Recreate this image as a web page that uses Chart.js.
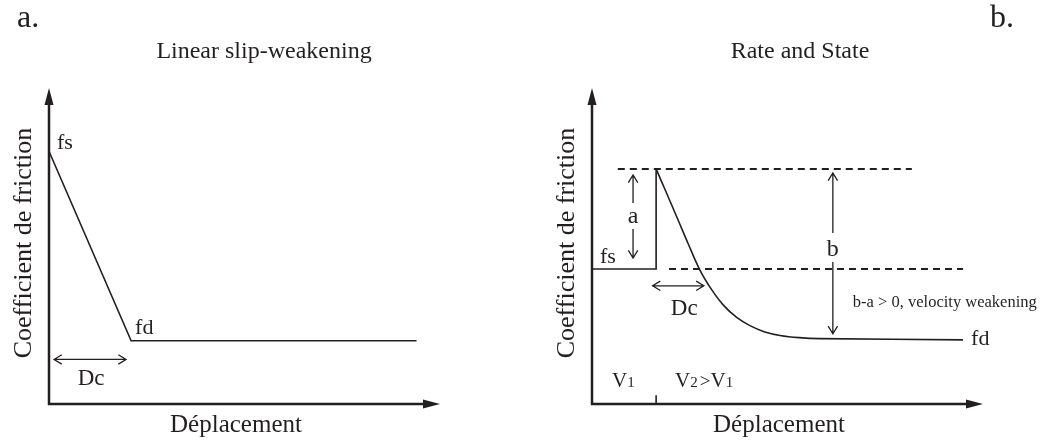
<!DOCTYPE html>
<html>
<head>
<meta charset="utf-8">
<script src="https://cdn.jsdelivr.net/npm/chart.js@4.4.1/dist/chart.umd.min.js"></script>
<style>
  html, body { margin: 0; padding: 0; background: #ffffff; }
  #wrap { position: relative; width: 1045px; height: 443px; overflow: hidden; }
  #wrap canvas { position: absolute; top: 0; }
</style>
</head>
<body>
<div id="wrap">
  <canvas id="slip" width="522" height="443" style="left:0"></canvas>
  <canvas id="rate" width="523" height="443" style="left:522px"></canvas>
</div>
<script>
const INK = '#231f20';
const SERIF = "'Liberation Serif', 'Times New Roman', serif";

// a. Linear slip-weakening: friction drops linearly from fs to fd over Dc
const slipX = [0, 2.1, 9.4];
const slipY = [8.0, 2.0, 2.0];
const slipDcX = [0.13, 1.97];
const slipDcY = 1.41;

// b. Rate and State: step in velocity V1 -> V2, direct jump (a) then evolution (b)
const stepX = [0, 1.64, 1.64];
const stepY = [4.27, 4.27, 7.44];
const decayX = [1.64, 1.87, 2.21, 2.46, 2.76, 3.06, 3.36, 3.70, 4.04, 4.40, 4.81, 5.30, 5.83, 9.49];
const decayY = [7.44, 6.78, 5.80, 5.07, 4.24, 3.62, 3.13, 2.74, 2.48, 2.29, 2.17, 2.10, 2.07, 2.03];
const peakLineX = [0.66, 8.18];
const peakLineY = [7.44, 7.44];
const steadyLineX = [1.97, 9.49];
const steadyLineY = [4.27, 4.27];
const aArrowX = 1.05;
const aArrowY = [7.25, 4.62];
const bArrowX = 6.16;
const bArrowY = [7.31, 2.22];
const rateDcX = [1.55, 2.86];
const rateDcY = 3.74;
const velocityStepX = 1.64;
const velocityTickY = [0, 0.28];

const pts = (xs, ys) => xs.map((v, i) => ({ x: v, y: ys[i] }));

function setFont(ctx, size) { ctx.font = size + 'px ' + SERIF; }

function text(ctx, s, x, y, size, align) {
  setFont(ctx, size);
  ctx.textAlign = align || 'left';
  ctx.textBaseline = 'alphabetic';
  ctx.fillText(s, x, y);
}

// mixed-size runs on one baseline (for V1 / V2 subscripts)
function runs(ctx, parts, x, y) {
  ctx.textAlign = 'left';
  ctx.textBaseline = 'alphabetic';
  for (const [s, size] of parts) {
    setFont(ctx, size);
    ctx.fillText(s, x, y);
    x += ctx.measureText(s).width;
  }
}

function axes(ctx, area) {
  ctx.save();
  ctx.strokeStyle = INK;
  ctx.fillStyle = INK;
  ctx.lineWidth = 2.5;
  ctx.lineJoin = 'miter';
  ctx.beginPath();
  ctx.moveTo(area.left, area.top + 14);
  ctx.lineTo(area.left, area.bottom);
  ctx.lineTo(area.right - 14, area.bottom);
  ctx.stroke();
  ctx.beginPath();
  ctx.moveTo(area.left, area.top);
  ctx.lineTo(area.left - 4.5, area.top + 17);
  ctx.lineTo(area.left + 4.5, area.top + 17);
  ctx.closePath();
  ctx.fill();
  ctx.beginPath();
  ctx.moveTo(area.right, area.bottom);
  ctx.lineTo(area.right - 17, area.bottom - 4.5);
  ctx.lineTo(area.right - 17, area.bottom + 4.5);
  ctx.closePath();
  ctx.fill();
  ctx.restore();
}

function dblArrow(ctx, x1, y1, x2, y2) {
  const head = 9, spread = 0.55;
  const ang = Math.atan2(y2 - y1, x2 - x1);
  ctx.save();
  ctx.strokeStyle = INK;
  ctx.lineWidth = 1.3;
  ctx.beginPath();
  ctx.moveTo(x1, y1);
  ctx.lineTo(x2, y2);
  for (const [px, py, a] of [[x1, y1, ang], [x2, y2, ang + Math.PI]]) {
    ctx.moveTo(px + head * Math.cos(a + spread), py + head * Math.sin(a + spread));
    ctx.lineTo(px, py);
    ctx.lineTo(px + head * Math.cos(a - spread), py + head * Math.sin(a - spread));
  }
  ctx.stroke();
  ctx.restore();
}

function axisTitles(ctx, area) {
  ctx.save();
  ctx.translate(area.left - 18, 243);
  ctx.rotate(-Math.PI / 2);
  text(ctx, 'Coefficient de friction', 0, 0, 26, 'center');
  ctx.restore();
  text(ctx, 'Déplacement', area.left + 187, 432, 25, 'center');
}

function baseOptions(pad) {
  return {
    responsive: false,
    animation: false,
    events: [],
    layout: { padding: pad },
    plugins: { legend: { display: false }, tooltip: { enabled: false }, title: { display: false } },
    scales: {
      x: { type: 'linear', min: 0, max: 10, display: false },
      y: { type: 'linear', min: 0, max: 10, display: false }
    },
    elements: { point: { radius: 0 } }
  };
}

const solid = (data, extra) => Object.assign({
  data, borderColor: INK, borderWidth: 1.6, pointRadius: 0, tension: 0, clip: false, fill: false
}, extra || {});

// ---------- a. ----------
new Chart(document.getElementById('slip'), {
  type: 'line',
  data: { datasets: [solid(pts(slipX, slipY))] },
  options: baseOptions({ left: 49, right: 82, top: 88, bottom: 39 }),
  plugins: [{
    id: 'slipDecor',
    beforeDatasetsDraw(chart) { axes(chart.ctx, chart.chartArea); },
    afterDatasetsDraw(chart) {
      const { ctx, chartArea: area } = chart;
      const X = v => chart.scales.x.getPixelForValue(v);
      const Y = v => chart.scales.y.getPixelForValue(v);
      ctx.save();
      ctx.fillStyle = INK;
      text(ctx, 'a.', 17, 27, 32);
      text(ctx, 'Linear slip-weakening', 264, 58, 24, 'center');
      axisTitles(ctx, area);
      text(ctx, 'fs', X(slipX[0]) + 8, Y(slipY[0]) - 2, 22);
      text(ctx, 'fd', X(slipX[1]) + 4, Y(slipY[1]) - 7, 22);
      dblArrow(ctx, X(slipDcX[0]), Y(slipDcY), X(slipDcX[1]), Y(slipDcY));
      text(ctx, 'Dc', (X(slipDcX[0]) + X(slipDcX[1])) / 2 + 1, Y(slipDcY) + 26, 23, 'center');
      ctx.restore();
    }
  }]
});

// ---------- b. ----------
new Chart(document.getElementById('rate'), {
  type: 'line',
  data: {
    datasets: [
      solid(pts(stepX, stepY)),
      solid(pts(decayX, decayY), { tension: 0.35 }),
      solid(pts(peakLineX, peakLineY), { borderWidth: 2, borderDash: [7, 5] }),
      solid(pts(steadyLineX, steadyLineY), { borderWidth: 2, borderDash: [7, 5] })
    ]
  },
  options: baseOptions({ left: 70, right: 62, top: 88, bottom: 39 }),
  plugins: [{
    id: 'rateDecor',
    beforeDatasetsDraw(chart) { axes(chart.ctx, chart.chartArea); },
    afterDatasetsDraw(chart) {
      const { ctx, chartArea: area } = chart;
      const X = v => chart.scales.x.getPixelForValue(v);
      const Y = v => chart.scales.y.getPixelForValue(v);
      ctx.save();
      ctx.fillStyle = INK;
      text(ctx, 'b.', 468, 27, 32);
      text(ctx, 'Rate and State', 278, 58, 24, 'center');
      axisTitles(ctx, area);

      // velocity step tick on the displacement axis
      ctx.strokeStyle = INK;
      ctx.lineWidth = 1.6;
      ctx.beginPath();
      ctx.moveTo(X(velocityStepX), Y(velocityTickY[0]));
      ctx.lineTo(X(velocityStepX), Y(velocityTickY[1]));
      ctx.stroke();

      // a : direct effect
      const ax = X(aArrowX);
      dblArrow(ctx, ax, Y(aArrowY[0]), ax, Y(aArrowY[1]));
      ctx.fillStyle = '#ffffff';
      ctx.fillRect(ax - 7, 203, 14, 26);
      ctx.fillStyle = INK;
      text(ctx, 'a', ax, 223, 24, 'center');

      // b : evolution effect
      const bx = X(bArrowX);
      dblArrow(ctx, bx, Y(bArrowY[0]), bx, Y(bArrowY[1]));
      ctx.fillStyle = '#ffffff';
      ctx.fillRect(bx - 7, 233, 14, 29);
      ctx.fillStyle = INK;
      text(ctx, 'b', bx, 256, 24, 'center');
      text(ctx, 'b-a > 0, velocity weakening', bx + 20, 307, 16.5);

      text(ctx, 'fs', X(stepX[0]) + 8, Y(stepY[0]) - 6, 22);
      const last = decayX.length - 1;
      text(ctx, 'fd', X(decayX[last]) + 8, Y(decayY[last]) + 5, 22);

      dblArrow(ctx, X(rateDcX[0]), Y(rateDcY), X(rateDcX[1]), Y(rateDcY));
      text(ctx, 'Dc', (X(rateDcX[0]) + X(rateDcX[1])) / 2 + 6, Y(rateDcY) + 29, 23, 'center');

      runs(ctx, [['V', 21], ['1', 15]], area.left + 20, 387);
      runs(ctx, [['V', 21], ['2', 15], [' ', 8], ['>', 19], ['V', 21], ['1', 15]], X(velocityStepX) + 19, 387);
      ctx.restore();
    }
  }]
});
</script>
</body>
</html>
